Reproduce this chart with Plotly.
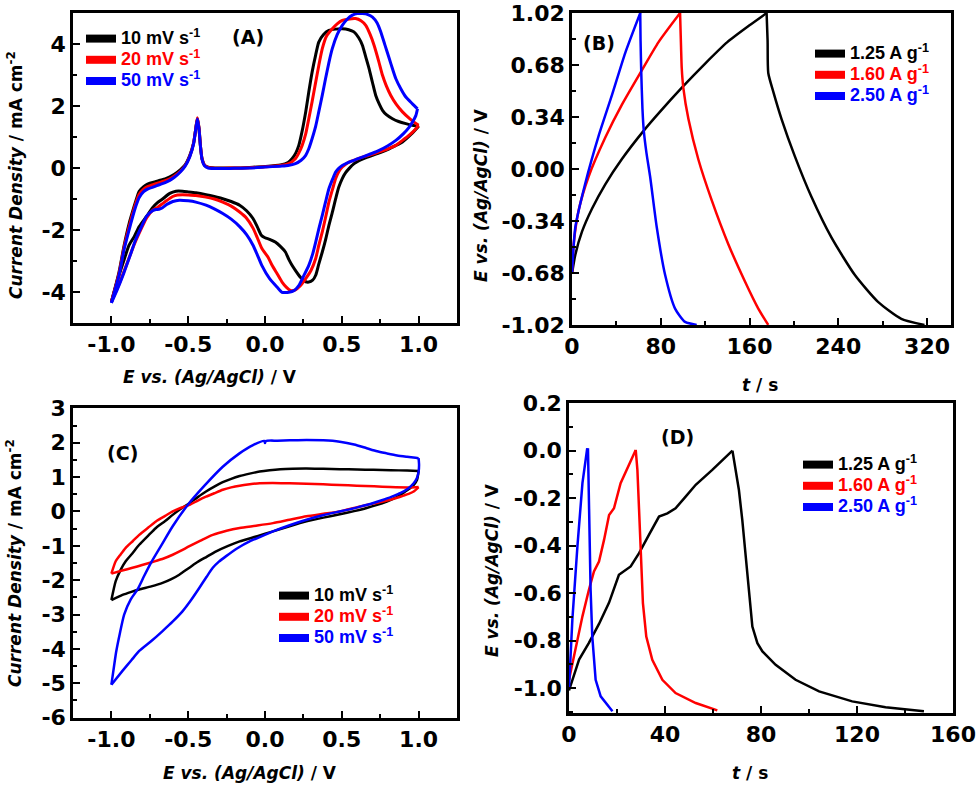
import plotly.graph_objects as go

W, H = 980, 787
BLACK, RED, BLUE = "#000000", "#ff0000", "#0000ff"

# ---------------- panel A : CV (E / V, I / mA cm-2) ----------------
a10_fwd = [(-1.0, -4.32), (-0.95, -3.35), (-0.917, -2.49), (-0.885, -1.8), (-0.863, -1.42),
           (-0.84, -1.05), (-0.819, -0.75), (-0.79, -0.6), (-0.765, -0.52), (-0.72, -0.45),
           (-0.688, -0.40), (-0.65, -0.35), (-0.623, -0.29), (-0.59, -0.2), (-0.55, -0.05),
           (-0.52, 0.1), (-0.49, 0.4), (-0.465, 0.8), (-0.45, 1.3), (-0.44, 1.6), (-0.43, 1.3),
           (-0.42, 0.7), (-0.41, 0.3), (-0.395, 0.1), (-0.37, 0.03), (-0.3, 0.0), (-0.2, 0.0),
           (-0.1, 0.02), (0.0, 0.05), (0.1, 0.1), (0.15, 0.18), (0.176, 0.30), (0.2, 0.48),
           (0.22, 0.73), (0.24, 1.15), (0.265, 1.81), (0.285, 2.45), (0.307, 3.10), (0.33, 3.65),
           (0.35, 4.06), (0.38, 4.3), (0.416, 4.44), (0.46, 4.48), (0.503, 4.49), (0.545, 4.46),
           (0.579, 4.39), (0.61, 4.2), (0.634, 3.96), (0.655, 3.6), (0.678, 3.2), (0.70, 2.75),
           (0.721, 2.34), (0.745, 2.05), (0.765, 1.86), (0.79, 1.72), (0.83, 1.59), (0.87, 1.5),
           (0.917, 1.43), (0.96, 1.38), (1.0, 1.35)]
a10_rev = [(1.0, 1.35), (0.95, 1.08), (0.895, 0.84), (0.85, 0.72), (0.809, 0.62), (0.75, 0.5),
           (0.7, 0.41), (0.65, 0.32), (0.612, 0.24), (0.58, 0.14), (0.547, -0.02), (0.525, -0.15),
           (0.503, -0.34), (0.48, -0.62), (0.46, -0.99), (0.44, -1.4), (0.416, -1.85), (0.395, -2.3),
           (0.373, -2.71), (0.35, -3.1), (0.33, -3.46), (0.31, -3.62), (0.285, -3.68), (0.265, -3.67),
           (0.253, -3.63), (0.235, -3.55), (0.22, -3.46), (0.2, -3.32), (0.176, -3.14), (0.155, -2.95),
           (0.133, -2.71), (0.1, -2.53), (0.067, -2.39), (0.03, -2.3), (0.0, -2.25), (-0.024, -2.17),
           (-0.05, -1.9), (-0.078, -1.63), (-0.12, -1.38), (-0.165, -1.2), (-0.22, -1.08),
           (-0.275, -0.99), (-0.33, -0.92), (-0.384, -0.86), (-0.45, -0.8), (-0.5, -0.77),
           (-0.536, -0.75), (-0.58, -0.75), (-0.62, -0.82), (-0.667, -1.0), (-0.7, -1.12),
           (-0.732, -1.28), (-0.77, -1.55), (-0.819, -1.89), (-0.85, -2.2), (-0.885, -2.49),
           (-0.92, -3.0), (-0.95, -3.46), (-1.0, -4.32)]
a20_fwd = [(-1.0, -4.32), (-0.95, -3.4), (-0.917, -2.55), (-0.885, -1.9), (-0.863, -1.5),
           (-0.84, -1.12), (-0.819, -0.85), (-0.79, -0.68), (-0.765, -0.6), (-0.72, -0.52),
           (-0.688, -0.47), (-0.65, -0.41), (-0.62, -0.35), (-0.59, -0.26), (-0.55, -0.1),
           (-0.52, 0.08), (-0.49, 0.38), (-0.465, 0.8), (-0.45, 1.3), (-0.44, 1.62), (-0.43, 1.3),
           (-0.42, 0.7), (-0.41, 0.3), (-0.395, 0.1), (-0.37, 0.02), (-0.3, -0.01), (-0.2, 0.0),
           (-0.1, 0.01), (0.0, 0.04), (0.1, 0.08), (0.15, 0.13), (0.198, 0.30), (0.22, 0.48),
           (0.242, 0.73), (0.265, 1.1), (0.285, 1.59), (0.307, 2.15), (0.33, 2.77), (0.35, 3.3),
           (0.373, 3.85), (0.4, 4.25), (0.438, 4.49), (0.47, 4.65), (0.503, 4.76), (0.55, 4.81),
           (0.59, 4.82), (0.625, 4.75), (0.656, 4.6), (0.685, 4.3), (0.71, 3.96), (0.74, 3.45),
           (0.765, 2.99), (0.79, 2.65), (0.819, 2.34), (0.855, 2.05), (0.895, 1.81), (0.94, 1.6),
           (0.97, 1.48), (1.0, 1.38)]
a20_rev = [(1.0, 1.38), (0.97, 1.2), (0.939, 1.06), (0.895, 0.89), (0.852, 0.73), (0.8, 0.62),
           (0.743, 0.52), (0.69, 0.43), (0.634, 0.35), (0.59, 0.27), (0.547, 0.19), (0.525, 0.12),
           (0.503, 0.03), (0.48, -0.12), (0.46, -0.34), (0.44, -0.68), (0.416, -1.10), (0.395, -1.58),
           (0.373, -2.06), (0.35, -2.5), (0.33, -2.92), (0.3, -3.3), (0.265, -3.57), (0.23, -3.8),
           (0.198, -3.93), (0.166, -3.95), (0.14, -3.85), (0.111, -3.68), (0.08, -3.42),
           (0.046, -3.14), (0.02, -2.88), (-0.02, -2.6), (-0.05, -2.25), (-0.078, -1.94),
           (-0.12, -1.62), (-0.165, -1.42), (-0.22, -1.23), (-0.275, -1.10), (-0.33, -1.0),
           (-0.384, -0.94), (-0.45, -0.89), (-0.5, -0.87), (-0.536, -0.86), (-0.57, -0.87),
           (-0.601, -0.92), (-0.64, -1.05), (-0.667, -1.15), (-0.7, -1.27), (-0.732, -1.37),
           (-0.77, -1.6), (-0.8, -1.9), (-0.85, -2.45), (-0.9, -3.1), (-0.95, -3.75), (-1.0, -4.32)]
a50_fwd = [(-1.0, -4.35), (-0.95, -3.45), (-0.917, -2.62), (-0.885, -2.0), (-0.863, -1.6),
           (-0.84, -1.22), (-0.819, -0.95), (-0.79, -0.76), (-0.765, -0.68), (-0.72, -0.6),
           (-0.688, -0.54), (-0.65, -0.47), (-0.62, -0.4), (-0.59, -0.3), (-0.55, -0.12),
           (-0.52, 0.06), (-0.49, 0.36), (-0.465, 0.78), (-0.45, 1.28), (-0.44, 1.58), (-0.43, 1.28),
           (-0.42, 0.68), (-0.41, 0.28), (-0.395, 0.08), (-0.37, 0.0), (-0.3, -0.02), (-0.2, -0.01),
           (-0.1, 0.0), (0.0, 0.03), (0.1, 0.06), (0.15, 0.08), (0.198, 0.14), (0.235, 0.25),
           (0.265, 0.41), (0.285, 0.62), (0.307, 0.95), (0.33, 1.35), (0.35, 1.81), (0.373, 2.35),
           (0.394, 2.88), (0.416, 3.4), (0.438, 3.85), (0.47, 4.3), (0.503, 4.6), (0.535, 4.8),
           (0.569, 4.93), (0.6, 4.98), (0.634, 4.98), (0.67, 4.95), (0.7, 4.87), (0.73, 4.68),
           (0.754, 4.39), (0.78, 3.98), (0.809, 3.53), (0.83, 3.2), (0.852, 2.88), (0.885, 2.55),
           (0.917, 2.29), (0.96, 2.07), (0.993, 1.91)]
a50_rev = [(0.993, 1.91), (0.982, 1.69), (0.96, 1.48), (0.939, 1.32), (0.9, 1.1), (0.852, 0.89),
           (0.8, 0.72), (0.743, 0.57), (0.69, 0.46), (0.634, 0.35), (0.59, 0.27), (0.547, 0.19),
           (0.503, 0.08), (0.48, -0.01), (0.46, -0.13), (0.44, -0.36), (0.416, -0.67), (0.395, -1.08),
           (0.373, -1.53), (0.35, -1.97), (0.33, -2.39), (0.31, -2.78), (0.285, -3.14), (0.25, -3.5),
           (0.22, -3.79), (0.19, -3.95), (0.155, -4.01), (0.13, -4.02), (0.111, -4.01), (0.08, -3.85),
           (0.03, -3.57), (-0.02, -3.15), (-0.05, -2.8), (-0.078, -2.49), (-0.12, -2.15),
           (-0.165, -1.89), (-0.22, -1.65), (-0.275, -1.47), (-0.33, -1.32), (-0.384, -1.2),
           (-0.45, -1.1), (-0.5, -1.06), (-0.558, -1.04), (-0.6, -1.08), (-0.64, -1.18),
           (-0.667, -1.28), (-0.69, -1.33), (-0.71, -1.34), (-0.732, -1.38), (-0.77, -1.55),
           (-0.8, -1.85), (-0.841, -2.3), (-0.88, -2.85), (-0.92, -3.4), (-0.96, -3.9), (-1.0, -4.35)]

# ---------------- panel B : charge / discharge (t / s, E / V) ----------------
b125_chg = [(0, -0.685), (3, -0.56), (9, -0.41), (18, -0.26), (30, -0.10), (45, 0.065),
            (64.7, 0.251), (80, 0.38), (99, 0.532), (120, 0.69), (140, 0.83), (160, 0.94),
            (175.4, 1.02)]
b125_dis = [(175.4, 1.02), (176.3, 0.838), (176.9, 0.628), (181.4, 0.506), (188.8, 0.328),
            (200.8, 0.084), (215.8, -0.182), (233.8, -0.448), (254.8, -0.692), (275.8, -0.869),
            (296.8, -0.98), (317.7, -1.02)]
b160_chg = [(0, -0.685), (1.5, -0.492), (6, -0.27), (15, -0.049), (30, 0.206), (45, 0.421),
            (62.4, 0.639), (78, 0.83), (97.4, 1.02)]
b160_dis = [(97.4, 1.02), (98.3, 0.794), (98.9, 0.661), (100.4, 0.528), (104.9, 0.328),
            (113.9, 0.062), (125.9, -0.204), (140.9, -0.492), (155.9, -0.736), (167.9, -0.913),
            (176.9, -1.02)]
b250_chg = [(0, -0.685), (3, -0.381), (12, -0.093), (24, 0.217), (36, 0.483), (48, 0.76),
            (61.5, 1.02)]
b250_dis = [(61.5, 1.02), (61.8, 0.838), (62.4, 0.639), (63.5, 0.395), (64.7, 0.251), (67.1, 0.106),
            (70.4, -0.049), (76.4, -0.381), (83.9, -0.692), (92.9, -0.913), (101.9, -1.0),
            (112.4, -1.02)]

# ---------------- panel C : CV (E / V, I / mA cm-2) ----------------
c10_fwd = [(-1.0, -2.58), (-0.972, -2.03), (-0.94, -1.7), (-0.907, -1.45), (-0.86, -1.2),
           (-0.819, -0.97), (-0.76, -0.7), (-0.71, -0.48), (-0.65, -0.28), (-0.601, -0.10),
           (-0.55, 0.07), (-0.492, 0.24), (-0.44, 0.41), (-0.384, 0.58), (-0.33, 0.72),
           (-0.275, 0.85), (-0.22, 0.95), (-0.165, 1.03), (-0.1, 1.10), (-0.035, 1.16), (0.03, 1.2),
           (0.1, 1.23), (0.18, 1.245), (0.27, 1.25), (0.38, 1.24), (0.487, 1.23), (0.6, 1.22),
           (0.706, 1.21), (0.82, 1.2), (0.925, 1.19), (1.0, 1.18)]
c10_rev = [(1.0, 1.18), (0.99, 0.92), (0.97, 0.78), (0.946, 0.68), (0.91, 0.57), (0.88, 0.48),
           (0.84, 0.38), (0.793, 0.29), (0.73, 0.19), (0.662, 0.10), (0.58, 0.01), (0.487, -0.08),
           (0.38, -0.18), (0.27, -0.29), (0.16, -0.43), (0.052, -0.58), (-0.05, -0.72),
           (-0.165, -0.87), (-0.24, -1.0), (-0.318, -1.16), (-0.38, -1.32), (-0.449, -1.50),
           (-0.5, -1.66), (-0.558, -1.84), (-0.61, -1.97), (-0.667, -2.08), (-0.74, -2.18),
           (-0.819, -2.27), (-0.87, -2.34), (-0.928, -2.43), (-1.0, -2.58)]
c20_fwd = [(-1.0, -1.81), (-0.972, -1.45), (-0.94, -1.25), (-0.907, -1.06), (-0.86, -0.86),
           (-0.819, -0.68), (-0.76, -0.47), (-0.71, -0.29), (-0.65, -0.13), (-0.601, 0.0),
           (-0.55, 0.1), (-0.492, 0.19), (-0.44, 0.31), (-0.384, 0.43), (-0.33, 0.53),
           (-0.275, 0.63), (-0.22, 0.70), (-0.165, 0.75), (-0.1, 0.79), (-0.035, 0.82),
           (0.05, 0.825), (0.161, 0.82), (0.27, 0.805), (0.379, 0.79), (0.487, 0.77), (0.597, 0.75),
           (0.71, 0.73), (0.815, 0.71), (0.946, 0.70), (1.0, 0.71)]
c20_rev = [(1.0, 0.71), (0.968, 0.58), (0.935, 0.51), (0.902, 0.46), (0.86, 0.40), (0.815, 0.34),
           (0.74, 0.26), (0.662, 0.19), (0.58, 0.1), (0.487, 0.0), (0.38, -0.07), (0.27, -0.14),
           (0.16, -0.24), (0.052, -0.34), (-0.05, -0.41), (-0.165, -0.48), (-0.25, -0.56),
           (-0.34, -0.68), (-0.42, -0.85), (-0.492, -1.01), (-0.55, -1.15), (-0.601, -1.26),
           (-0.66, -1.37), (-0.732, -1.47), (-0.8, -1.56), (-0.863, -1.64), (-0.93, -1.72),
           (-1.0, -1.81)]
c50_fwd = [(-1.0, -5.04), (-0.978, -4.35), (-0.968, -4.06), (-0.946, -3.57), (-0.917, -3.0),
           (-0.874, -2.56), (-0.83, -2.27), (-0.787, -1.88), (-0.739, -1.47), (-0.678, -1.01),
           (-0.601, -0.43), (-0.503, 0.19), (-0.394, 0.75), (-0.275, 1.30), (-0.166, 1.69),
           (-0.078, 1.93), (-0.005, 2.05), (0.0, 1.99), (0.005, 2.05), (0.08, 2.06), (0.161, 2.07),
           (0.27, 2.08), (0.38, 2.07), (0.487, 2.03), (0.58, 1.95), (0.662, 1.84), (0.73, 1.75),
           (0.793, 1.69), (0.86, 1.63), (0.925, 1.59), (0.98, 1.56), (1.0, 1.55)]
c50_rev = [(1.0, 1.55), (1.003, 1.35), (1.0, 1.16), (0.99, 0.98), (0.968, 0.82), (0.93, 0.66),
           (0.88, 0.53), (0.83, 0.44), (0.771, 0.34), (0.7, 0.24), (0.619, 0.14), (0.55, 0.06),
           (0.466, -0.02), (0.37, -0.12), (0.27, -0.24), (0.16, -0.4), (0.052, -0.58), (-0.03, -0.74),
           (-0.1, -0.87), (-0.18, -1.07), (-0.253, -1.30), (-0.3, -1.46), (-0.34, -1.64),
           (-0.38, -1.9), (-0.427, -2.22), (-0.48, -2.57), (-0.536, -2.90), (-0.6, -3.2),
           (-0.667, -3.48), (-0.74, -3.77), (-0.819, -4.06), (-0.87, -4.33), (-0.928, -4.64),
           (-1.0, -5.04)]

# ---------------- panel D : charge / discharge (t / s, E / V) ----------------
d125_chg = [(0, -1.01), (4.2, -0.88), (8.3, -0.81), (12.5, -0.73), (16.7, -0.64), (20.8, -0.523),
            (25.7, -0.488), (29.2, -0.432), (33.3, -0.355), (37.5, -0.278), (41, -0.264),
            (44.4, -0.243), (48.6, -0.194), (52.8, -0.144), (59.7, -0.081), (68.1, 0.0)]
d125_dis = [(68.1, 0.0), (69.4, -0.081), (70.8, -0.166), (72.2, -0.292), (73.6, -0.446),
            (75, -0.614), (76.4, -0.741), (78.5, -0.811), (80.6, -0.846), (86.1, -0.902),
            (94.4, -0.965), (104.2, -1.014), (118, -1.056), (131.9, -1.081), (147.9, -1.098)]
d160_chg = [(0, -0.965), (2.8, -0.825), (5.6, -0.698), (8.3, -0.586), (10.4, -0.509),
            (12.5, -0.467), (14.6, -0.376), (16.7, -0.271), (18.75, -0.243), (21.5, -0.137),
            (24.3, -0.074), (27.8, 0.003)]
d160_dis = [(27.8, 0.003), (28.5, -0.081), (29.2, -0.25), (29.9, -0.432), (30.8, -0.642),
            (32.2, -0.783), (34.7, -0.881), (38.9, -0.965), (44.4, -1.021), (52.8, -1.063),
            (61.8, -1.094)]
d250_chg = [(0, -1.0), (1.4, -0.712), (3.5, -0.404), (5.6, -0.137), (7.6, 0.01)]
d250_dis = [(7.9, 0.01), (8.3, -0.222), (9.0, -0.586), (9.7, -0.783), (11.1, -0.965),
            (13.2, -1.035), (18.1, -1.098)]

# ---------------- ticks and labels ----------------
CV_X_TICKS = [-1.0, -0.5, 0.0, 0.5, 1.0]
A_Y_TICKS = [-4, -2, 0, 2, 4]
B_X_TICKS = [0, 80, 160, 240, 320]
B_Y_TICKS = [-1.02, -0.68, -0.34, 0.0, 0.34, 0.68, 1.02]
C_Y_TICKS = [-6, -5, -4, -3, -2, -1, 0, 1, 2, 3]
D_X_TICKS = [0, 40, 80, 120, 160]
D_Y_TICKS = [-1.0, -0.8, -0.6, -0.4, -0.2, 0.0, 0.2]

CV_NAMES = ["10 mV s<sup>-1</sup>", "20 mV s<sup>-1</sup>", "50 mV s<sup>-1</sup>"]
GCD_NAMES = ["1.25 A g<sup>-1</sup>", "1.60 A g<sup>-1</sup>", "2.50 A g<sup>-1</sup>"]
COLORS = [BLACK, RED, BLUE]

E_TITLE = "<i>E vs. (Ag/AgCl)</i> / V"
J_TITLE = "<i>Current Density</i> / mA cm<sup>-2</sup>"
T_TITLE = "<i>t</i> / s"


def px(x):
    return x / W


def py(y):
    return 1 - y / H


fig = go.Figure()


def add_curve(points, color, width, axis, shape="spline"):
    fig.add_trace(go.Scatter(
        x=[p[0] for p in points], y=[p[1] for p in points], mode="lines",
        line=dict(color=color, width=width, shape=shape, smoothing=0.6),
        xaxis="x" + axis, yaxis="y" + axis, showlegend=False, hoverinfo="skip",
    ))


def add_legend_keys(names, axis, legend):
    for name, color in zip(names, COLORS):
        fig.add_trace(go.Scatter(
            x=[None], y=[None], mode="lines", line=dict(color=color, width=8),
            name=f'<span style="color:{color};font-size:18px">{name}</span>',
            xaxis="x" + axis, yaxis="y" + axis, legend=legend,
        ))


for fwd, rev, color in [(a10_fwd, a10_rev, BLACK), (a20_fwd, a20_rev, RED), (a50_fwd, a50_rev, BLUE)]:
    add_curve(fwd, color, 3, "")
    add_curve(rev, color, 3, "")
for chg, dis, color in [(b125_chg, b125_dis, BLACK), (b160_chg, b160_dis, RED), (b250_chg, b250_dis, BLUE)]:
    add_curve(chg, color, 2.5, "2")
    add_curve(dis, color, 2.5, "2")
for fwd, rev, color in [(c10_fwd, c10_rev, BLACK), (c20_fwd, c20_rev, RED), (c50_fwd, c50_rev, BLUE)]:
    add_curve(fwd, color, 2.5, "3")
    add_curve(rev, color, 2.5, "3")
for chg, dis, color in [(d125_chg, d125_dis, BLACK), (d160_chg, d160_dis, RED), (d250_chg, d250_dis, BLUE)]:
    add_curve(chg, color, 2.5, "4", shape="linear")
    add_curve(dis, color, 2.5, "4", shape="linear")

add_legend_keys(CV_NAMES, "", "legend")
add_legend_keys(GCD_NAMES, "2", "legend2")
add_legend_keys(CV_NAMES, "3", "legend3")
add_legend_keys(GCD_NAMES, "4", "legend4")

tick_font = dict(family="DejaVu Sans", size=22, color=BLACK, weight="bold")


def axis(domain, rng, vals, fmt, minor_step, anchor):
    return dict(
        domain=domain, range=rng, anchor=anchor, automargin=False,
        tickmode="array", tickvals=vals, ticktext=[format(v, fmt) for v in vals],
        ticks="inside", ticklen=7, tickwidth=2, tickcolor=BLACK,
        minor=dict(dtick=minor_step, tick0=0, ticks="inside", ticklen=4, tickwidth=2, tickcolor=BLACK),
        showline=True, linewidth=2.5, linecolor=BLACK, mirror=True,
        showgrid=False, zeroline=False, tickfont=tick_font, ticklabeloverflow="allow",
    )


dom_ax = [px(73), px(457)]
dom_bx = [px(572), px(951)]
dom_dx = [px(569), px(953)]

legend_style = dict(
    font=dict(family="Liberation Sans", size=14, color=BLACK, weight="bold"),
    bgcolor="rgba(0,0,0,0)", itemwidth=30, tracegroupgap=0,
    xanchor="left", yanchor="top", traceorder="normal",
)

title_font = dict(family="DejaVu Sans", size=17, color=BLACK, weight="bold")
label_font = dict(family="DejaVu Sans", size=19, color=BLACK, weight="bold")

annotations = []
for text, x, y, rot in [
    (E_TITLE, 210, 377, 0), (E_TITLE, 250, 773, 0),
    (T_TITLE, 760, 385, 0), (T_TITLE, 750, 773, 0),
    (J_TITLE, 15, 175, -90), (J_TITLE, 14, 563, -90),
    (E_TITLE, 481, 195, -90), (E_TITLE, 492, 570, -90),
]:
    annotations.append(dict(text=text, x=px(x), y=py(y), xref="paper", yref="paper",
                            showarrow=False, textangle=rot, font=title_font,
                            xanchor="center", yanchor="middle"))
for text, x, y in [("(A)", 248, 37), ("(B)", 599, 43), ("(C)", 122, 453), ("(D)", 677, 437)]:
    annotations.append(dict(text=text, x=px(x), y=py(y), xref="paper", yref="paper",
                            showarrow=False, font=label_font, xanchor="center", yanchor="middle"))

fig.update_layout(
    width=W, height=H, margin=dict(l=0, r=0, t=0, b=0, autoexpand=False),
    paper_bgcolor="white", plot_bgcolor="white",
    font=dict(family="DejaVu Sans", color=BLACK),
    xaxis=axis(dom_ax, [-1.25, 1.25], CV_X_TICKS, ".1f", 0.25, "y"),
    yaxis=axis([py(323), py(13)], [-5, 5], A_Y_TICKS, "d", 1, "x"),
    xaxis2=axis(dom_bx, [0, 341.6], B_X_TICKS, "d", 40, "y2"),
    yaxis2=axis([py(325), py(13)], [-1.0205, 1.0205], B_Y_TICKS, ".2f", 0.17, "x2"),
    xaxis3=axis(dom_ax, [-1.25, 1.25], CV_X_TICKS, ".1f", 0.25, "y3"),
    yaxis3=axis([py(718), py(408)], [-6.01, 3.01], C_Y_TICKS, "d", 0.5, "x3"),
    xaxis4=axis(dom_dx, [0, 160], D_X_TICKS, "d", 20, "y4"),
    yaxis4=axis([py(713), py(403)], [-1.105, 0.2005], D_Y_TICKS, ".1f", 0.1, "x4"),
    legend=dict(x=px(81), y=py(23), **legend_style),
    legend2=dict(x=px(810), y=py(38), **legend_style),
    legend3=dict(x=px(274), y=py(580), **legend_style),
    legend4=dict(x=px(798), y=py(449), **legend_style),
    annotations=annotations,
    showlegend=True,
)

# the page body has a default 8 px margin; drop it so the figure sits at the page corner
fig.write_html(
    "out.html",
    config={"displayModeBar": False},
    post_script="document.body.style.margin = '0px';",
)
